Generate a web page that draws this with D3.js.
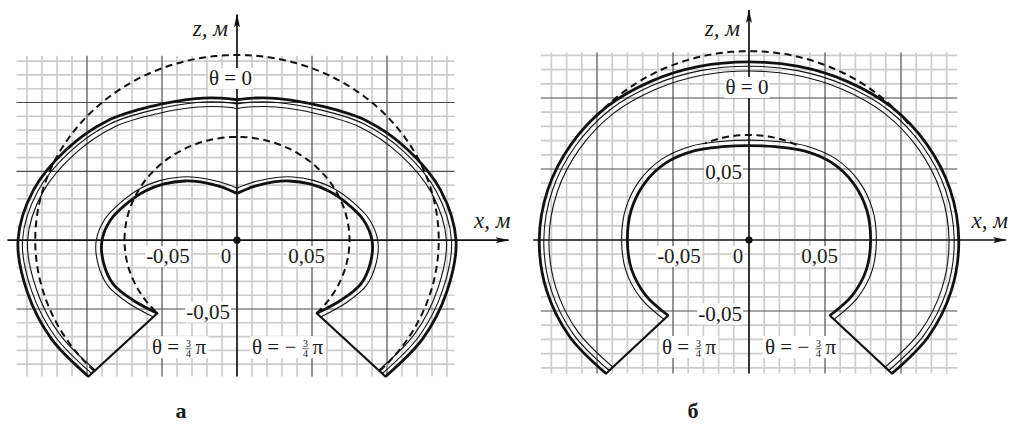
<!DOCTYPE html>
<html>
<head>
<meta charset="utf-8">
<script src="https://cdn.jsdelivr.net/npm/d3@7"></script>
<style>
body{margin:0;background:#fff}
</style>
</head>
<body>
<svg id="chart" width="1013" height="429"></svg>
<script>
// polar readings: theta in degrees (from +z towards -x), r in metres

// panel "а"
var thetaOuterA = [-135,-120,-105,-90,-75,-60,-45,-30,-15,-6,0,6,15,30,45,60,75,90,105,120,135];
var rOuterA     = [0.140,0.143,0.1448,0.146,0.1405,0.1315,0.1225,0.1125,0.1065,0.1038,0.102,0.1038,0.1065,0.1125,0.1225,0.1315,0.1405,0.146,0.1448,0.143,0.140];
var thetaInnerA = [-135,-122,-111,-100,-90,-80,-70,-60,-50,-39,-30,-17,-8,0,8,17,30,39,50,60,70,80,90,100,111,122,135];
var rInnerA     = [0.0751,0.082,0.0885,0.0905,0.090,0.0855,0.078,0.071,0.0635,0.0553,0.0488,0.041,0.0368,0.034,0.0368,0.041,0.0488,0.0553,0.0635,0.071,0.078,0.0855,0.090,0.0905,0.0885,0.082,0.0751];
var rDashA = [0.1345, 0.075];           // dashed circles
var dashSpanA = [135, 135];             // half-angle of dashed arcs, deg

// panel "б"
var thetaOuterB = [-135,-120,-105,-90,-75,-60,-45,-30,-15,0,15,30,45,60,75,90,105,120,135];
var rOuterB     = [0.133,0.1362,0.1378,0.138,0.137,0.135,0.1325,0.129,0.1265,0.1254,0.1265,0.129,0.1325,0.135,0.137,0.138,0.1378,0.1362,0.133];
var thetaInnerB = [-135,-120,-105,-90,-75,-60,-45,-30,-15,0,15,30,45,60,75,90,105,120,135];
var rInnerB     = [0.0752,0.0783,0.080,0.080,0.0803,0.0795,0.077,0.0725,0.068,0.0665,0.068,0.0725,0.077,0.0795,0.0803,0.080,0.080,0.0783,0.0752];
var rDashB = [0.133, 0.074];
var dashSpanB = [52, 25];

var xTickVals = [-0.05, 0, 0.05];
var xTickText = ["-0,05", "0", "0,05"];
var zTickValsA = [-0.05];
var zTickValsB = [0.05, -0.05];
var zTickText = {"-0.05": "-0,05", "0.05": "0,05"};
var captions = ["а", "б"];

var FONT = "'Liberation Serif', 'DejaVu Serif', 'Times New Roman', serif";
var svg = d3.select("#chart");
var deg = Math.PI / 180;

function toXZ(t, r) { return [-r * Math.sin(t * deg), r * Math.cos(t * deg)]; }

var panels = [
  {x: d3.scaleLinear().domain([-0.1, 0.1]).range([87, 387]),
   z: d3.scaleLinear().domain([-0.05, 0.1]).range([309, 102.5]),
   gridX: [-0.147, 0.145], gridZ: [-0.099, 0.134], nx: 14,
   axisX: [-0.153, 0.181], axisZ: [-0.099, 0.164],
   outer: [thetaOuterA, rOuterA], inner: [thetaInnerA, rInnerA], split: true,
   dash: rDashA, dashSpan: dashSpanA, zTicks: zTickValsA,
   thetaLbl: [-6.5, 85], fracL: -85, fracR: 15},
  {x: d3.scaleLinear().domain([-0.1, 0.1]).range([597, 901]),
   z: d3.scaleLinear().domain([-0.05, 0.1]).range([311, 98]),
   gridX: [-0.137, 0.137], gridZ: [-0.094, 0.132], nx: 13,
   axisX: [-0.142, 0.169], axisZ: [-0.094, 0.162],
   outer: [thetaOuterB, rOuterB], inner: [thetaInnerB, rInnerB], split: false,
   dash: rDashB, dashSpan: dashSpanB, zTicks: zTickValsB,
   thetaLbl: [-2, 94], fracL: -87, fracR: 16}
];

// arrow marker
svg.append("defs").append("marker")
  .attr("id", "arr").attr("viewBox", "0 0 14 6")
  .attr("refX", 13).attr("refY", 3)
  .attr("markerWidth", 14).attr("markerHeight", 6)
  .attr("markerUnits", "userSpaceOnUse").attr("orient", "auto")
  .append("path").attr("d", "M0,0 L14,3 L0,6 L3,3 Z").attr("fill", "#111");

function txt(g, x, y, str, size) {
  return g.append("text").attr("x", x).attr("y", y)
    .attr("font-family", FONT).attr("font-size", size).attr("fill", "#1a1a1a").text(str);
}

function label(g, x, y, str, anchor, size, italic) {
  var t = txt(g, x, y, str, size || 21).attr("text-anchor", anchor || "middle")
    .attr("font-style", italic ? "italic" : "normal");
  var b = t.node().getBBox();
  g.insert("rect", function() { return t.node(); })
    .attr("x", b.x - 1).attr("y", b.y + 2).attr("width", b.width + 2).attr("height", b.height - 3)
    .attr("fill", "#fff");
  return t;
}

function fracLabel(g, x, y, neg) {
  var grp = g.append("g");
  var t = txt(grp, x, y, neg ? "θ = − " : "θ = ", 21).attr("xml:space", "preserve");
  var w = t.node().getComputedTextLength();
  var fx = x + w + 1;
  txt(grp, fx + 3, y - 7, "3", 10).attr("text-anchor", "middle");
  txt(grp, fx + 3, y + 3, "4", 10).attr("text-anchor", "middle");
  grp.append("line").attr("x1", fx).attr("x2", fx + 6).attr("y1", y - 5.5).attr("y2", y - 5.5)
    .attr("stroke", "#333").attr("stroke-width", 0.7);
  txt(grp, fx + 10, y, "π", 21);
  var b = grp.node().getBBox();
  grp.insert("rect", ":first-child").attr("x", b.x - 2).attr("y", b.y + 1)
    .attr("width", b.width + 4).attr("height", b.height - 2).attr("fill", "#fff");
}

panels.forEach(function(P, pi) {
  var g = svg.append("g");
  var x0 = P.x(0), z0 = P.z(0);

  // grid
  var vx = d3.range(-P.nx, P.nx + 1).map(function(k) { return k / 100; });
  var hz = d3.range(-9, 14).map(function(k) { return k / 100; });
  var grid = g.append("g");
  [false, true].forEach(function(major) {
    vx.filter(function(v) { return v !== 0 && (Math.abs(Math.round(v * 100)) % 5 === 0) === major; })
      .forEach(function(v) {
        grid.append("line").attr("x1", P.x(v)).attr("x2", P.x(v))
          .attr("y1", P.z(P.gridZ[0])).attr("y2", P.z(P.gridZ[1]))
          .attr("stroke", major ? "#4d4d4d" : "#cdcdcd").attr("stroke-width", major ? 1.2 : 1.7);
      });
    hz.filter(function(v) { return v !== 0 && (Math.abs(Math.round(v * 100)) % 5 === 0) === major; })
      .forEach(function(v) {
        grid.append("line").attr("y1", P.z(v)).attr("y2", P.z(v))
          .attr("x1", P.x(P.gridX[0])).attr("x2", P.x(P.gridX[1]))
          .attr("stroke", major ? "#4d4d4d" : "#cdcdcd").attr("stroke-width", major ? 1.2 : 1.7);
      });
  });

  // axes
  g.append("line").attr("x1", P.x(P.axisX[0])).attr("x2", P.x(P.axisX[1]))
    .attr("y1", z0).attr("y2", z0).attr("stroke", "#111").attr("stroke-width", 1.7)
    .attr("marker-end", "url(#arr)");
  g.append("line").attr("x1", x0).attr("x2", x0)
    .attr("y1", P.z(P.axisZ[0])).attr("y2", P.z(P.axisZ[1])).attr("stroke", "#111").attr("stroke-width", 1.7)
    .attr("marker-end", "url(#arr)");

  // labels
  var lg = g.append("g");
  label(lg, x0 - 9, 36, "z, м", "end", 23, true);
  label(lg, P.x(P.axisX[1]) + 2, 228, "x, м", "end", 23, true);
  label(lg, x0 + P.thetaLbl[0], P.thetaLbl[1], "θ = 0", "middle", 21);
  var xOff = [6, -11, -5.5];
  xTickVals.forEach(function(v, i) {
    label(lg, P.x(v) + xOff[i], z0 + 23, xTickText[i], "middle", 21);
  });
  P.zTicks.forEach(function(v) {
    label(lg, x0 - 7, P.z(v) + 9.5, zTickText[String(v)], "end", 21);
  });
  fracLabel(lg, x0 + P.fracL, z0 + 114, false);
  fracLabel(lg, x0 + P.fracR, z0 + 114, true);

  // curves
  var line = d3.line().x(function(d) { return P.x(d[0]); }).y(function(d) { return P.z(d[1]); })
    .curve(d3.curveCatmullRom.alpha(0.5));
  var cg = g.append("g").attr("fill", "none").attr("stroke", "#111");

  // dashed circles
  P.dash.forEach(function(r, i) {
    var span = P.dashSpan[i];
    var pts = d3.range(-span, span + 0.01, 3).map(function(t) { return toXZ(t, r); });
    cg.append("path").attr("d", line(pts)).attr("stroke-width", 2)
      .attr("stroke-dasharray", "7,4.5");
  });

  function drawWall(th, rr, offsets) {
    offsets.forEach(function(o) {
      var pts = th.map(function(t, i) { return toXZ(t, rr[i] + o.d); });
      var parts = [pts];
      if (P.split) {
        var i0 = th.indexOf(0);
        parts = [pts.slice(0, i0 + 1), pts.slice(i0)];
      }
      parts.forEach(function(p) {
        cg.append("path").attr("d", line(p)).attr("stroke-width", o.w);
      });
    });
  }
  drawWall(P.outer[0], P.outer[1], [{d: 0, w: 2.8}, {d: -0.003, w: 1.1}, {d: -0.0064, w: 1.1}]);
  drawWall(P.inner[0], P.inner[1], [{d: 0, w: 2.8}, {d: 0.0038, w: 1.1}]);

  // closing radial segments at theta = ±135
  [0, P.inner[0].length - 1].forEach(function(i) {
    var a = toXZ(P.inner[0][i], P.inner[1][i]);
    var j = i === 0 ? 0 : P.outer[0].length - 1;
    var b = toXZ(P.outer[0][j], P.outer[1][j]);
    cg.append("line").attr("x1", P.x(a[0])).attr("y1", P.z(a[1]))
      .attr("x2", P.x(b[0])).attr("y2", P.z(b[1])).attr("stroke-width", 2.2)
      .attr("stroke-linecap", "round");
  });

  // origin dot
  g.append("circle").attr("cx", x0).attr("cy", z0).attr("r", 3.6).attr("fill", "#111");

  // caption
  txt(g, x0 - 56, 418, captions[pi], 22).attr("text-anchor", "middle").attr("font-weight", "bold");
});
</script>
</body>
</html>
